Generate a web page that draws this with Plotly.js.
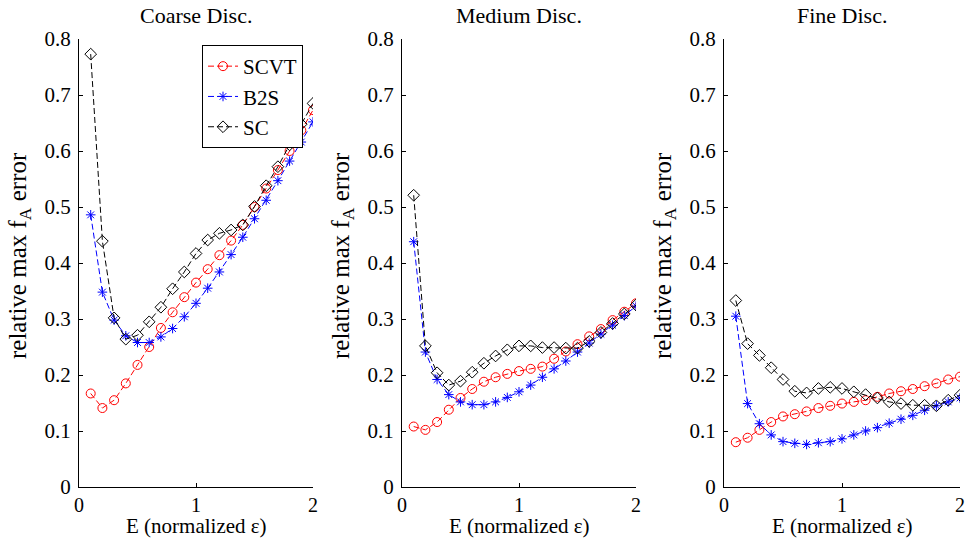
<!DOCTYPE html>
<html>
<head>
<meta charset="utf-8">
<script src="https://cdn.plot.ly/plotly-3.0.1.min.js"></script>
<style>html,body{margin:0;padding:0;background:#fff;}#chart{width:970px;height:540px;}</style>
</head>
<body>
<div id="chart"></div>
<script>
// E values (normalized epsilon)
var E = [0.1,0.2,0.3,0.4,0.5,0.6,0.7,0.8,0.9,1.0,1.1,1.2,1.3,1.4,1.5,1.6,1.7,1.8,1.9,2.0];

var panelTitles = ["Coarse Disc.", "Medium Disc.", "Fine Disc."];
var seriesNames = ["SCVT", "B2S", "SC"];
var xLabel = "E (normalized ε)";
var yLabel = "relative max f<sub>A</sub> error";

// Coarse discretization
var coarseSCVT = [0.167,0.141,0.155,0.185,0.218,0.250,0.284,0.312,0.339,0.365,0.389,0.414,0.440,0.468,0.500,0.533,0.566,0.600,0.637,0.673];
var coarseB2S  = [0.486,0.348,0.298,0.270,0.258,0.258,0.268,0.283,0.304,0.328,0.355,0.384,0.415,0.446,0.479,0.512,0.547,0.582,0.616,0.652];
var coarseSC   = [0.773,0.439,0.302,0.264,0.271,0.295,0.321,0.354,0.384,0.417,0.441,0.453,0.459,0.468,0.501,0.538,0.572,0.611,0.648,0.685];

// Medium discretization
var mediumSCVT = [0.108,0.102,0.116,0.138,0.159,0.175,0.188,0.196,0.202,0.207,0.211,0.215,0.229,0.242,0.255,0.269,0.282,0.298,0.313,0.328];
var mediumB2S  = [0.438,0.241,0.192,0.165,0.152,0.147,0.147,0.152,0.160,0.170,0.182,0.196,0.211,0.225,0.241,0.257,0.273,0.289,0.306,0.323];
var mediumSC   = [0.521,0.252,0.204,0.182,0.189,0.205,0.221,0.234,0.245,0.252,0.252,0.249,0.249,0.248,0.248,0.260,0.276,0.292,0.309,0.325];

// Fine discretization
var fineSCVT = [0.080,0.088,0.102,0.116,0.126,0.130,0.135,0.141,0.145,0.149,0.152,0.155,0.161,0.167,0.171,0.175,0.180,0.185,0.192,0.197];
var fineB2S  = [0.305,0.149,0.113,0.093,0.081,0.078,0.076,0.079,0.081,0.086,0.093,0.100,0.106,0.114,0.121,0.128,0.137,0.145,0.152,0.159];
var fineSC   = [0.333,0.256,0.235,0.213,0.192,0.171,0.168,0.176,0.178,0.176,0.170,0.165,0.159,0.152,0.149,0.146,0.146,0.145,0.155,0.164];

var xTicks = [0,1,2];
var yTicks = [0,0.1,0.2,0.3,0.4,0.5,0.6,0.7,0.8];

var panels = [
  [coarseSCVT, coarseB2S, coarseSC],
  [mediumSCVT, mediumB2S, mediumSC],
  [fineSCVT, fineB2S, fineSC]
];

var styles = [
  {color:'#ff0000', symbol:'circle-open', size:9, dash:'6px,3px'},
  {color:'#0000ff', symbol:'asterisk-open', size:8, dash:'6px,3px'},
  {color:'#000000', symbol:'diamond-open', size:9, dash:'6px,3px'}
];

var traces = [];
panels.forEach(function(p, i){
  p.forEach(function(vals, j){
    var st = styles[j];
    traces.push({
      x: E, y: vals, type:'scatter', mode:'lines+markers',
      name: seriesNames[j],
      xaxis: i===0 ? 'x' : 'x'+(i+1),
      yaxis: i===0 ? 'y' : 'y'+(i+1),
      showlegend: i===0,
      line:{color:st.color, width:1, dash:st.dash},
      marker:{symbol:st.symbol, size:st.size, color:st.color, line:{color:st.color, width:1}}
    });
  });
});

var FAM = 'Liberation Serif, serif';
var yTickFont = {family:FAM, size:21, color:'#000'};
var xTickFont = {family:FAM, size:20, color:'#000'};
var titleFont = {family:FAM, size:22, color:'#000'};
var xLabFont = {family:FAM, size:21, color:'#000'};
var yLabFont = {family:FAM, size:25, color:'#000'};
var W = 970, H = 540;
var xDomPx = [[79,313],[402,636],[724,960]];
var yLabX = [19, 342, 664];
var yDom = [1-487/H, 1-39/H];

var layout = {
  width:W, height:H,
  margin:{l:0,r:0,t:0,b:0},
  paper_bgcolor:'#fff', plot_bgcolor:'#fff',
  font:{family:FAM, size:20, color:'#000'},
  showlegend:true,
  legend:{x:202/W, y:1-45/H, xanchor:'left', yanchor:'top',
          bgcolor:'#fff', bordercolor:'#000', borderwidth:1,
          font:{family:FAM, size:21, color:'#000'}, tracegroupgap:0},
  annotations:[]
};

for (var i=0;i<3;i++){
  var sx = i===0 ? '' : String(i+1);
  layout['xaxis'+sx] = {
    domain:[xDomPx[i][0]/W, xDomPx[i][1]/W], range:[0,2],
    anchor:'y'+sx, tickvals:xTicks, ticktext:xTicks.map(String),
    ticks:'inside', ticklen:4, tickcolor:'#000', showline:true, linecolor:'#000', linewidth:1,
    showgrid:false, zeroline:false, mirror:false,
    tickfont:xTickFont, ticklabelstandoff:0
  };
  layout['yaxis'+sx] = {
    domain:yDom, range:[0,0.8],
    anchor:'x'+sx, tickvals:yTicks, ticktext:yTicks.map(function(v){return v===0?'0':v.toFixed(1);}),
    ticks:'inside', ticklen:4, tickcolor:'#000', showline:true, linecolor:'#000', linewidth:1,
    showgrid:false, zeroline:false, mirror:false,
    tickfont:yTickFont, ticklabelstandoff:3
  };
  var cx = (xDomPx[i][0]+xDomPx[i][1])/2/W;
  layout.annotations.push({
    text: panelTitles[i], xref:'paper', yref:'paper',
    x:cx, y:1-15/H, xanchor:'center', yanchor:'middle',
    showarrow:false, font:titleFont
  });
  layout.annotations.push({
    text: xLabel, xref:'paper', yref:'paper',
    x:cx, y:1-526/H, xanchor:'center', yanchor:'middle',
    showarrow:false, font:xLabFont
  });
  layout.annotations.push({
    text: yLabel, xref:'paper', yref:'paper', textangle:-90,
    x:yLabX[i]/W, y:1-256/H, xanchor:'center', yanchor:'middle',
    showarrow:false, font:yLabFont
  });
}

Plotly.newPlot('chart', traces, layout, {displayModeBar:false, staticPlot:true});
</script>
</body>
</html>
